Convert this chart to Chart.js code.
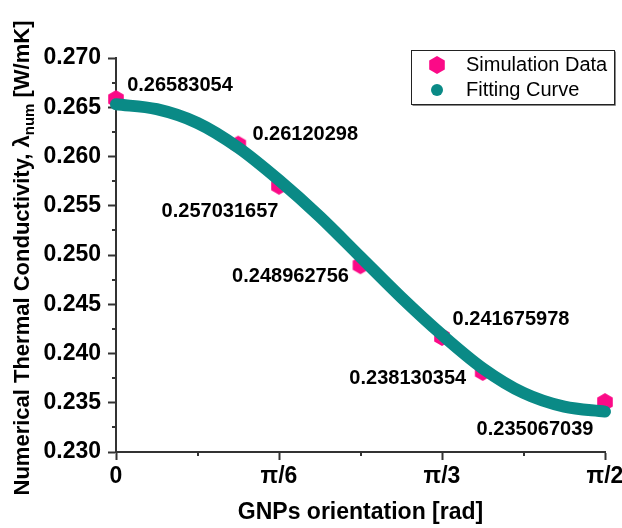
<!DOCTYPE html>
<html>
<head>
<meta charset="utf-8">
<script src="https://cdn.jsdelivr.net/npm/chart.js@4.4.1/dist/chart.umd.min.js"></script>
<style>
  html, body { margin: 0; padding: 0; background: #fff; }
  #wrap { width: 622px; height: 528px; position: relative; }
</style>
</head>
<body>
<div id="wrap"><canvas id="chart"></canvas></div>
<script>
// ========================
// DATA
// ========================
const simAngles = [0, Math.PI / 8, Math.PI / 6, Math.PI / 4, Math.PI / 3, 3 * Math.PI / 8, Math.PI / 2];
const simValues = [0.26583054, 0.26120298, 0.257031657, 0.248962756, 0.241675978, 0.238130354, 0.235067039];

// fitted curve, sampled every pi/24
const fitAngles = [0, Math.PI / 24, 2 * Math.PI / 24, 3 * Math.PI / 24, 4 * Math.PI / 24, 5 * Math.PI / 24,
                   6 * Math.PI / 24, 7 * Math.PI / 24, 8 * Math.PI / 24, 9 * Math.PI / 24, 10 * Math.PI / 24,
                   11 * Math.PI / 24, 12 * Math.PI / 24];
const fitValues = [0.2653, 0.2648, 0.2634, 0.2609, 0.2576, 0.2539, 0.2498, 0.2457, 0.2419, 0.2385, 0.2360, 0.2346, 0.2341];

const xTickValues = [0, Math.PI / 6, Math.PI / 3, Math.PI / 2];
const xTickLabels = ['0', 'π/6', 'π/3', 'π/2'];
const yTickValues = [0.230, 0.235, 0.240, 0.245, 0.250, 0.255, 0.260, 0.265, 0.270];

const seriesNames = ['Simulation Data', 'Fitting Curve'];

// ========================
// STYLE
// ========================
const PINK = '#fb0a87';
const TEAL = '#0a8a86';
const AXIS = '#333333';
const FONT = "'Liberation Sans', Arial, sans-serif";

// where each value label sits relative to its point (dx, dy of text centre)
const labelOffsets = [[64, -14], [67, -10], [-59, 26], [-70, 11], [69, -18], [-75, 7], [-70, 27]];

// pointy-top hexagon used as marker
function hexagon(r, color) {
    const size = Math.ceil(r * 2) + 2;
    const c = document.createElement('canvas');
    c.width = size;
    c.height = size;
    const g = c.getContext('2d');
    g.fillStyle = color;
    g.beginPath();
    for (let i = 0; i < 6; i++) {
        const a = -Math.PI / 2 + i * Math.PI / 3;
        const px = size / 2 + r * Math.cos(a);
        const py = size / 2 + r * Math.sin(a);
        if (i === 0) g.moveTo(px, py); else g.lineTo(px, py);
    }
    g.closePath();
    g.fill();
    return c;
}
const hexMarker = hexagon(9, PINK);

// ========================
// EXTRA DRAWING
// ========================
const extras = {
    id: 'extras',
    afterDraw(chart) {
        const ctx = chart.ctx;
        const xs = chart.scales.x;
        const ys = chart.scales.y;
        const area = chart.chartArea;

        ctx.save();

        // minor ticks half way between the major ones
        ctx.strokeStyle = AXIS;
        ctx.lineWidth = 2;
        ctx.beginPath();
        for (let i = 0; i < yTickValues.length - 1; i++) {
            const y = Math.round(ys.getPixelForValue((yTickValues[i] + yTickValues[i + 1]) / 2));
            ctx.moveTo(area.left - 4, y);
            ctx.lineTo(area.left, y);
        }
        for (let i = 0; i < xTickValues.length - 1; i++) {
            const x = Math.round(xs.getPixelForValue((xTickValues[i] + xTickValues[i + 1]) / 2));
            ctx.moveTo(x, area.bottom);
            ctx.lineTo(x, area.bottom + 4);
        }
        ctx.stroke();

        // value labels next to the simulation points
        ctx.fillStyle = '#000';
        ctx.font = 'bold 20px ' + FONT;
        ctx.textAlign = 'center';
        ctx.textBaseline = 'middle';
        const meta = chart.getDatasetMeta(0);
        meta.data.forEach((pt, i) => {
            const off = labelOffsets[i];
            ctx.fillText(String(simValues[i]), pt.x + off[0], pt.y + off[1]);
        });

        // x axis title
        ctx.font = 'bold 23px ' + FONT;
        ctx.fillText('GNPs orientation [rad]', (area.left + area.right) / 2, 513);

        // y axis title with subscript
        const main = 'Numerical Thermal Conductivity, λ';
        const sub = 'num';
        const tail = ' [W/mK]';
        const bigFont = 'bold 22px ' + FONT;
        const smallFont = 'bold 15px ' + FONT;
        ctx.font = bigFont;
        const wMain = ctx.measureText(main).width;
        const wTail = ctx.measureText(tail).width;
        ctx.font = smallFont;
        const wSub = ctx.measureText(sub).width;
        const total = wMain + wSub + wTail;
        ctx.translate(21, 258);
        ctx.rotate(-Math.PI / 2);
        ctx.textAlign = 'left';
        ctx.textBaseline = 'alphabetic';
        let tx = -total / 2;
        ctx.font = bigFont;
        ctx.fillText(main, tx, 8);
        tx += wMain;
        ctx.font = smallFont;
        ctx.fillText(sub, tx, 13);
        tx += wSub;
        ctx.font = bigFont;
        ctx.fillText(tail, tx, 8);
        ctx.restore();

        // legend box
        ctx.save();
        const bx = area.right - 194, by = area.top - 8, bw = 203, bh = 54;
        ctx.fillStyle = '#fff';
        ctx.fillRect(bx, by, bw, bh);
        ctx.strokeStyle = '#222';
        ctx.lineWidth = 1;
        ctx.strokeRect(bx + 0.5, by + 0.5, bw, bh);
        ctx.strokeStyle = '#888';
        ctx.beginPath();
        ctx.moveTo(bx + 1.5, by + bh + 1.5);
        ctx.lineTo(bx + bw + 1.5, by + bh + 1.5);
        ctx.lineTo(bx + bw + 1.5, by + 1.5);
        ctx.stroke();

        const row1 = by + 15, row2 = by + 40;
        ctx.drawImage(hexMarker, bx + 26 - hexMarker.width / 2, row1 - hexMarker.height / 2);
        ctx.fillStyle = TEAL;
        ctx.beginPath();
        ctx.arc(bx + 26, row2, 6, 0, Math.PI * 2);
        ctx.fill();

        ctx.fillStyle = '#000';
        ctx.font = '20px ' + FONT;
        ctx.textAlign = 'left';
        ctx.textBaseline = 'middle';
        ctx.fillText(seriesNames[0], bx + 55, row1);
        ctx.fillText(seriesNames[1], bx + 55, row2);
        ctx.restore();
    }
};

// ========================
// CHART
// ========================
const ctx = document.getElementById('chart').getContext('2d');
new Chart(ctx, {
    type: 'scatter',
    data: {
        datasets: [
            {
                label: seriesNames[0],
                data: simAngles.map((x, i) => ({ x: x, y: simValues[i] })),
                pointStyle: hexMarker,
                pointRadius: 9,
                backgroundColor: PINK,
                borderColor: PINK,
                showLine: false,
                clip: false,
                order: 1
            },
            {
                label: seriesNames[1],
                data: fitAngles.map((x, i) => ({ x: x, y: fitValues[i] })),
                showLine: true,
                borderColor: TEAL,
                backgroundColor: TEAL,
                borderWidth: 12,
                borderCapStyle: 'round',
                borderJoinStyle: 'round',
                cubicInterpolationMode: 'monotone',
                pointRadius: 0,
                clip: false,
                order: 0
            }
        ]
    },
    options: {
        responsive: true,
        maintainAspectRatio: false,
        animation: false,
        devicePixelRatio: 1,
        layout: { padding: { top: 58, right: 17, left: 0, bottom: 0 } },
        plugins: {
            legend: { display: false },
            tooltip: { enabled: false }
        },
        scales: {
            x: {
                type: 'linear',
                min: 0,
                max: Math.PI / 2,
                afterBuildTicks: s => { s.ticks = xTickValues.map(v => ({ value: v })); },
                afterFit: s => { s.height = 76; s.paddingLeft = 0; s.paddingRight = 0; },
                ticks: {
                    callback: (v, i) => xTickLabels[i],
                    font: { family: FONT, size: 23, weight: 'bold' },
                    color: '#000',
                    padding: 3,
                    maxRotation: 0,
                    autoSkip: false
                },
                grid: { drawOnChartArea: false, tickLength: 8, tickColor: AXIS, tickWidth: 2 },
                border: { color: AXIS, width: 2 }
            },
            y: {
                min: 0.230,
                max: 0.270,
                afterBuildTicks: s => { s.ticks = yTickValues.map(v => ({ value: v })); },
                afterFit: s => { s.width = 116; s.paddingTop = 0; s.paddingBottom = 0; },
                ticks: {
                    callback: v => v.toFixed(3),
                    font: { family: FONT, size: 23, weight: 'bold' },
                    color: '#000',
                    padding: 7
                },
                grid: { drawOnChartArea: false, tickLength: 8, tickColor: AXIS, tickWidth: 2 },
                border: { color: AXIS, width: 2 }
            }
        }
    },
    plugins: [extras]
});
</script>
</body>
</html>
